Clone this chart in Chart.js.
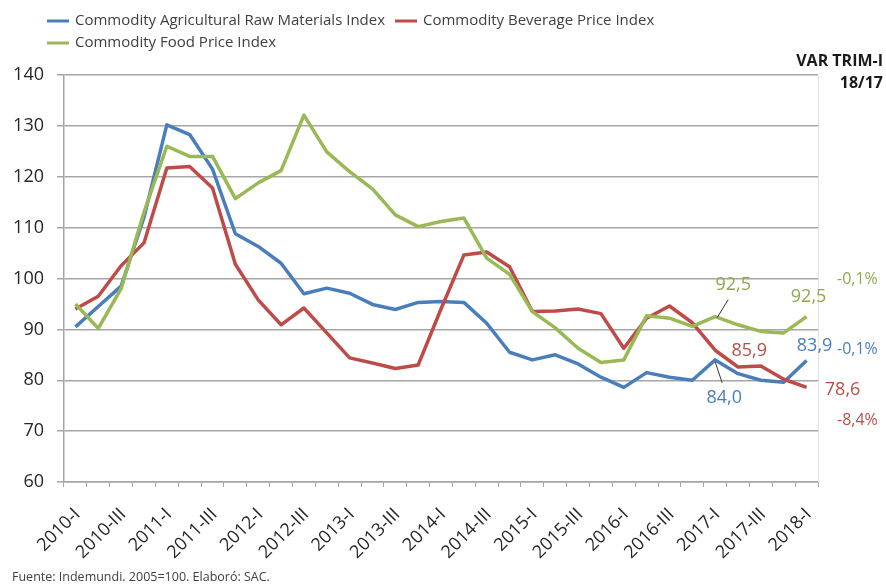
<!DOCTYPE html>
<html>
<head>
<meta charset="utf-8">
<title>Commodity price indices</title>
<script src="https://cdn.jsdelivr.net/npm/chart.js@4.4.0/dist/chart.umd.min.js"></script>
<style>
  html, body { margin: 0; padding: 0; background: #fff; }
  #wrap { width: 886px; height: 585px; position: relative; }
</style>
</head>
<body>
<div id="wrap"><canvas id="chart" width="886" height="585"></canvas></div>
<script>
// Quarterly series, 2005=100
const quarters = [
    '2010-I', '2010-II', '2010-III', '2010-IV',
    '2011-I', '2011-II', '2011-III', '2011-IV',
    '2012-I', '2012-II', '2012-III', '2012-IV',
    '2013-I', '2013-II', '2013-III', '2013-IV',
    '2014-I', '2014-II', '2014-III', '2014-IV',
    '2015-I', '2015-II', '2015-III', '2015-IV',
    '2016-I', '2016-II', '2016-III', '2016-IV',
    '2017-I', '2017-II', '2017-III', '2017-IV',
    '2018-I'
];
const agriRaw = [
    90.5, 94.5, 98.5, 112, 130.2, 128.3, 121.5, 108.8,
    106.3, 103, 97, 98.1, 97.1, 94.9, 93.9, 95.3,
    95.5, 95.3, 91.2, 85.5, 84, 85, 83.2, 80.6,
    78.6, 81.5, 80.6, 80, 84.0, 81.3, 80, 79.6,
    83.9
];
const beverage = [
    94, 96.5, 102.5, 107, 121.7, 122, 117.8, 102.8,
    95.8, 90.9, 94.2, 89.3, 84.4, 83.4, 82.3, 83,
    94, 104.6, 105.2, 102.3, 93.5, 93.6, 94, 93.1,
    86.3, 92.2, 94.6, 91.3, 85.9, 82.6, 82.8, 80.2,
    78.6
];
const food = [
    95, 90.2, 98, 113, 126, 124, 124, 115.7,
    118.8, 121.2, 132.1, 124.9, 121, 117.6, 112.5, 110.2,
    111.2, 111.9, 104, 100.8, 93.5, 90.3, 86.3, 83.5,
    84, 92.7, 92.2, 90.6, 92.5, 90.9, 89.6, 89.3,
    92.5
];
// year-on-year change of the first quarter (food, raw materials, beverage)
const varTrim = ['-0,1%', '-0,1%', '-8,4%'];

const COLORS = {
    blue: '#4A7EBB',
    red: '#BE4B48',
    green: '#98B954',
    greenText: '#8DA94E'
};
const FONT = '"Open Sans", "DejaVu Sans", sans-serif';

function fmt(v) {
    return v.toFixed(1).replace('.', ',');
}

// legend, value labels, side notes and source line
const extrasPlugin = {
    id: 'extras',
    afterDraw(chart) {
        const ctx = chart.ctx;
        const area = chart.chartArea;
        ctx.save();

        // right border of plot area
        ctx.strokeStyle = '#e2e2e2';
        ctx.lineWidth = 1;
        ctx.beginPath();
        ctx.moveTo(area.right + 0.5, area.top);
        ctx.lineTo(area.right + 0.5, area.bottom);
        ctx.stroke();

        // legend
        const legendItems = [
            { text: 'Commodity Agricultural Raw Materials Index', color: COLORS.blue, x: 47, y: 21 },
            { text: 'Commodity Beverage Price Index', color: COLORS.red, x: 395, y: 21 },
            { text: 'Commodity Food Price Index', color: COLORS.green, x: 47, y: 43 }
        ];
        ctx.font = '15px ' + FONT;
        ctx.textBaseline = 'middle';
        ctx.textAlign = 'left';
        legendItems.forEach(item => {
            ctx.strokeStyle = item.color;
            ctx.lineWidth = 3;
            ctx.beginPath();
            ctx.moveTo(item.x, item.y);
            ctx.lineTo(item.x + 22, item.y);
            ctx.stroke();
            ctx.fillStyle = '#404040';
            ctx.fillText(item.text, item.x + 28, item.y);
        });

        // header on the right
        ctx.fillStyle = '#1a1a1a';
        ctx.font = 'bold 16px ' + FONT;
        ctx.textAlign = 'right';
        ctx.fillText('VAR TRIM-I', 883, 61);
        ctx.fillText('18/17', 883, 83);

        // value labels
        const last = quarters.length - 1;
        const mark = quarters.indexOf('2017-I');
        const pt = (ds, i) => chart.getDatasetMeta(ds).data[i];
        ctx.font = '18px ' + FONT;
        ctx.textAlign = 'center';
        const labels = [
            { ds: 0, i: last, v: agriRaw[last], dx: 8, dy: -15, color: COLORS.blue },
            { ds: 1, i: last, v: beverage[last], dx: 36, dy: 3, color: COLORS.red },
            { ds: 2, i: last, v: food[last], dx: 2, dy: -20, color: COLORS.greenText },
            { ds: 0, i: mark, v: agriRaw[mark], dx: 9, dy: 38, color: COLORS.blue },
            { ds: 1, i: mark, v: beverage[mark], dx: 34, dy: 1, color: COLORS.red },
            { ds: 2, i: mark, v: food[mark], dx: 18, dy: -32, color: COLORS.greenText }
        ];
        labels.forEach(l => {
            const p = pt(l.ds, l.i);
            ctx.fillStyle = l.color;
            ctx.fillText(fmt(l.v), p.x + l.dx, p.y + l.dy);
        });

        // leader lines for the 2017-I labels
        ctx.strokeStyle = '#333';
        ctx.lineWidth = 1;
        const g = pt(2, mark);
        ctx.beginPath();
        ctx.moveTo(g.x + 2, g.y + 1);
        ctx.lineTo(g.x + 13, g.y - 17);
        ctx.stroke();
        const b = pt(0, mark);
        ctx.beginPath();
        ctx.moveTo(b.x, b.y + 2);
        ctx.lineTo(b.x + 7, b.y + 23);
        ctx.stroke();

        // year-on-year notes
        ctx.font = '16px ' + FONT;
        ctx.textAlign = 'left';
        ctx.fillStyle = COLORS.greenText;
        ctx.fillText(varTrim[0], 837, 279);
        ctx.fillStyle = COLORS.blue;
        ctx.fillText(varTrim[1], 837, 349);
        ctx.fillStyle = COLORS.red;
        ctx.fillText(varTrim[2], 837, 420);

        // source
        ctx.font = '12.5px ' + FONT;
        ctx.fillStyle = '#404040';
        ctx.fillText('Fuente: Indemundi. 2005=100. Elaboró: SAC.', 12, 577);

        ctx.restore();
    }
};

const ctx = document.getElementById('chart').getContext('2d');
new Chart(ctx, {
    type: 'line',
    data: {
        labels: quarters,
        datasets: [
            {
                label: 'Commodity Agricultural Raw Materials Index',
                data: agriRaw,
                borderColor: COLORS.blue,
                order: 2
            },
            {
                label: 'Commodity Beverage Price Index',
                data: beverage,
                borderColor: COLORS.red,
                order: 1
            },
            {
                label: 'Commodity Food Price Index',
                data: food,
                borderColor: COLORS.green,
                order: 0
            }
        ]
    },
    options: {
        responsive: false,
        animation: false,
        layout: { padding: { top: 75, right: 68, left: 0, bottom: 0 } },
        elements: {
            line: { borderWidth: 3.5, tension: 0, borderJoinStyle: 'round' },
            point: { radius: 0, hoverRadius: 0 }
        },
        plugins: {
            legend: { display: false },
            tooltip: { enabled: false }
        },
        scales: {
            x: {
                offset: true,
                grid: {
                    offset: true,
                    drawOnChartArea: false,
                    drawTicks: true,
                    tickLength: 5,
                    color: '#a6a6a6'
                },
                border: { color: '#a6a6a6', width: 1.5 },
                ticks: {
                    autoSkip: false,
                    minRotation: 45,
                    maxRotation: 45,
                    padding: 17,
                    labelOffset: 2,
                    color: '#262626',
                    font: { family: FONT, size: 18 },
                    callback: (val, i) => (i % 2 === 0 ? quarters[i] : '')
                },
                afterFit(scale) { scale.height = 103; }
            },
            y: {
                min: 60,
                max: 140,
                grid: {
                    color: '#a6a6a6',
                    lineWidth: 1.5,
                    tickLength: 7
                },
                border: { color: '#a6a6a6', width: 1.5 },
                ticks: {
                    stepSize: 10,
                    padding: 13,
                    color: '#262626',
                    font: { family: FONT, size: 18 }
                },
                afterFit(scale) { scale.width = 64; }
            }
        }
    },
    plugins: [extrasPlugin]
});
</script>
</body>
</html>
